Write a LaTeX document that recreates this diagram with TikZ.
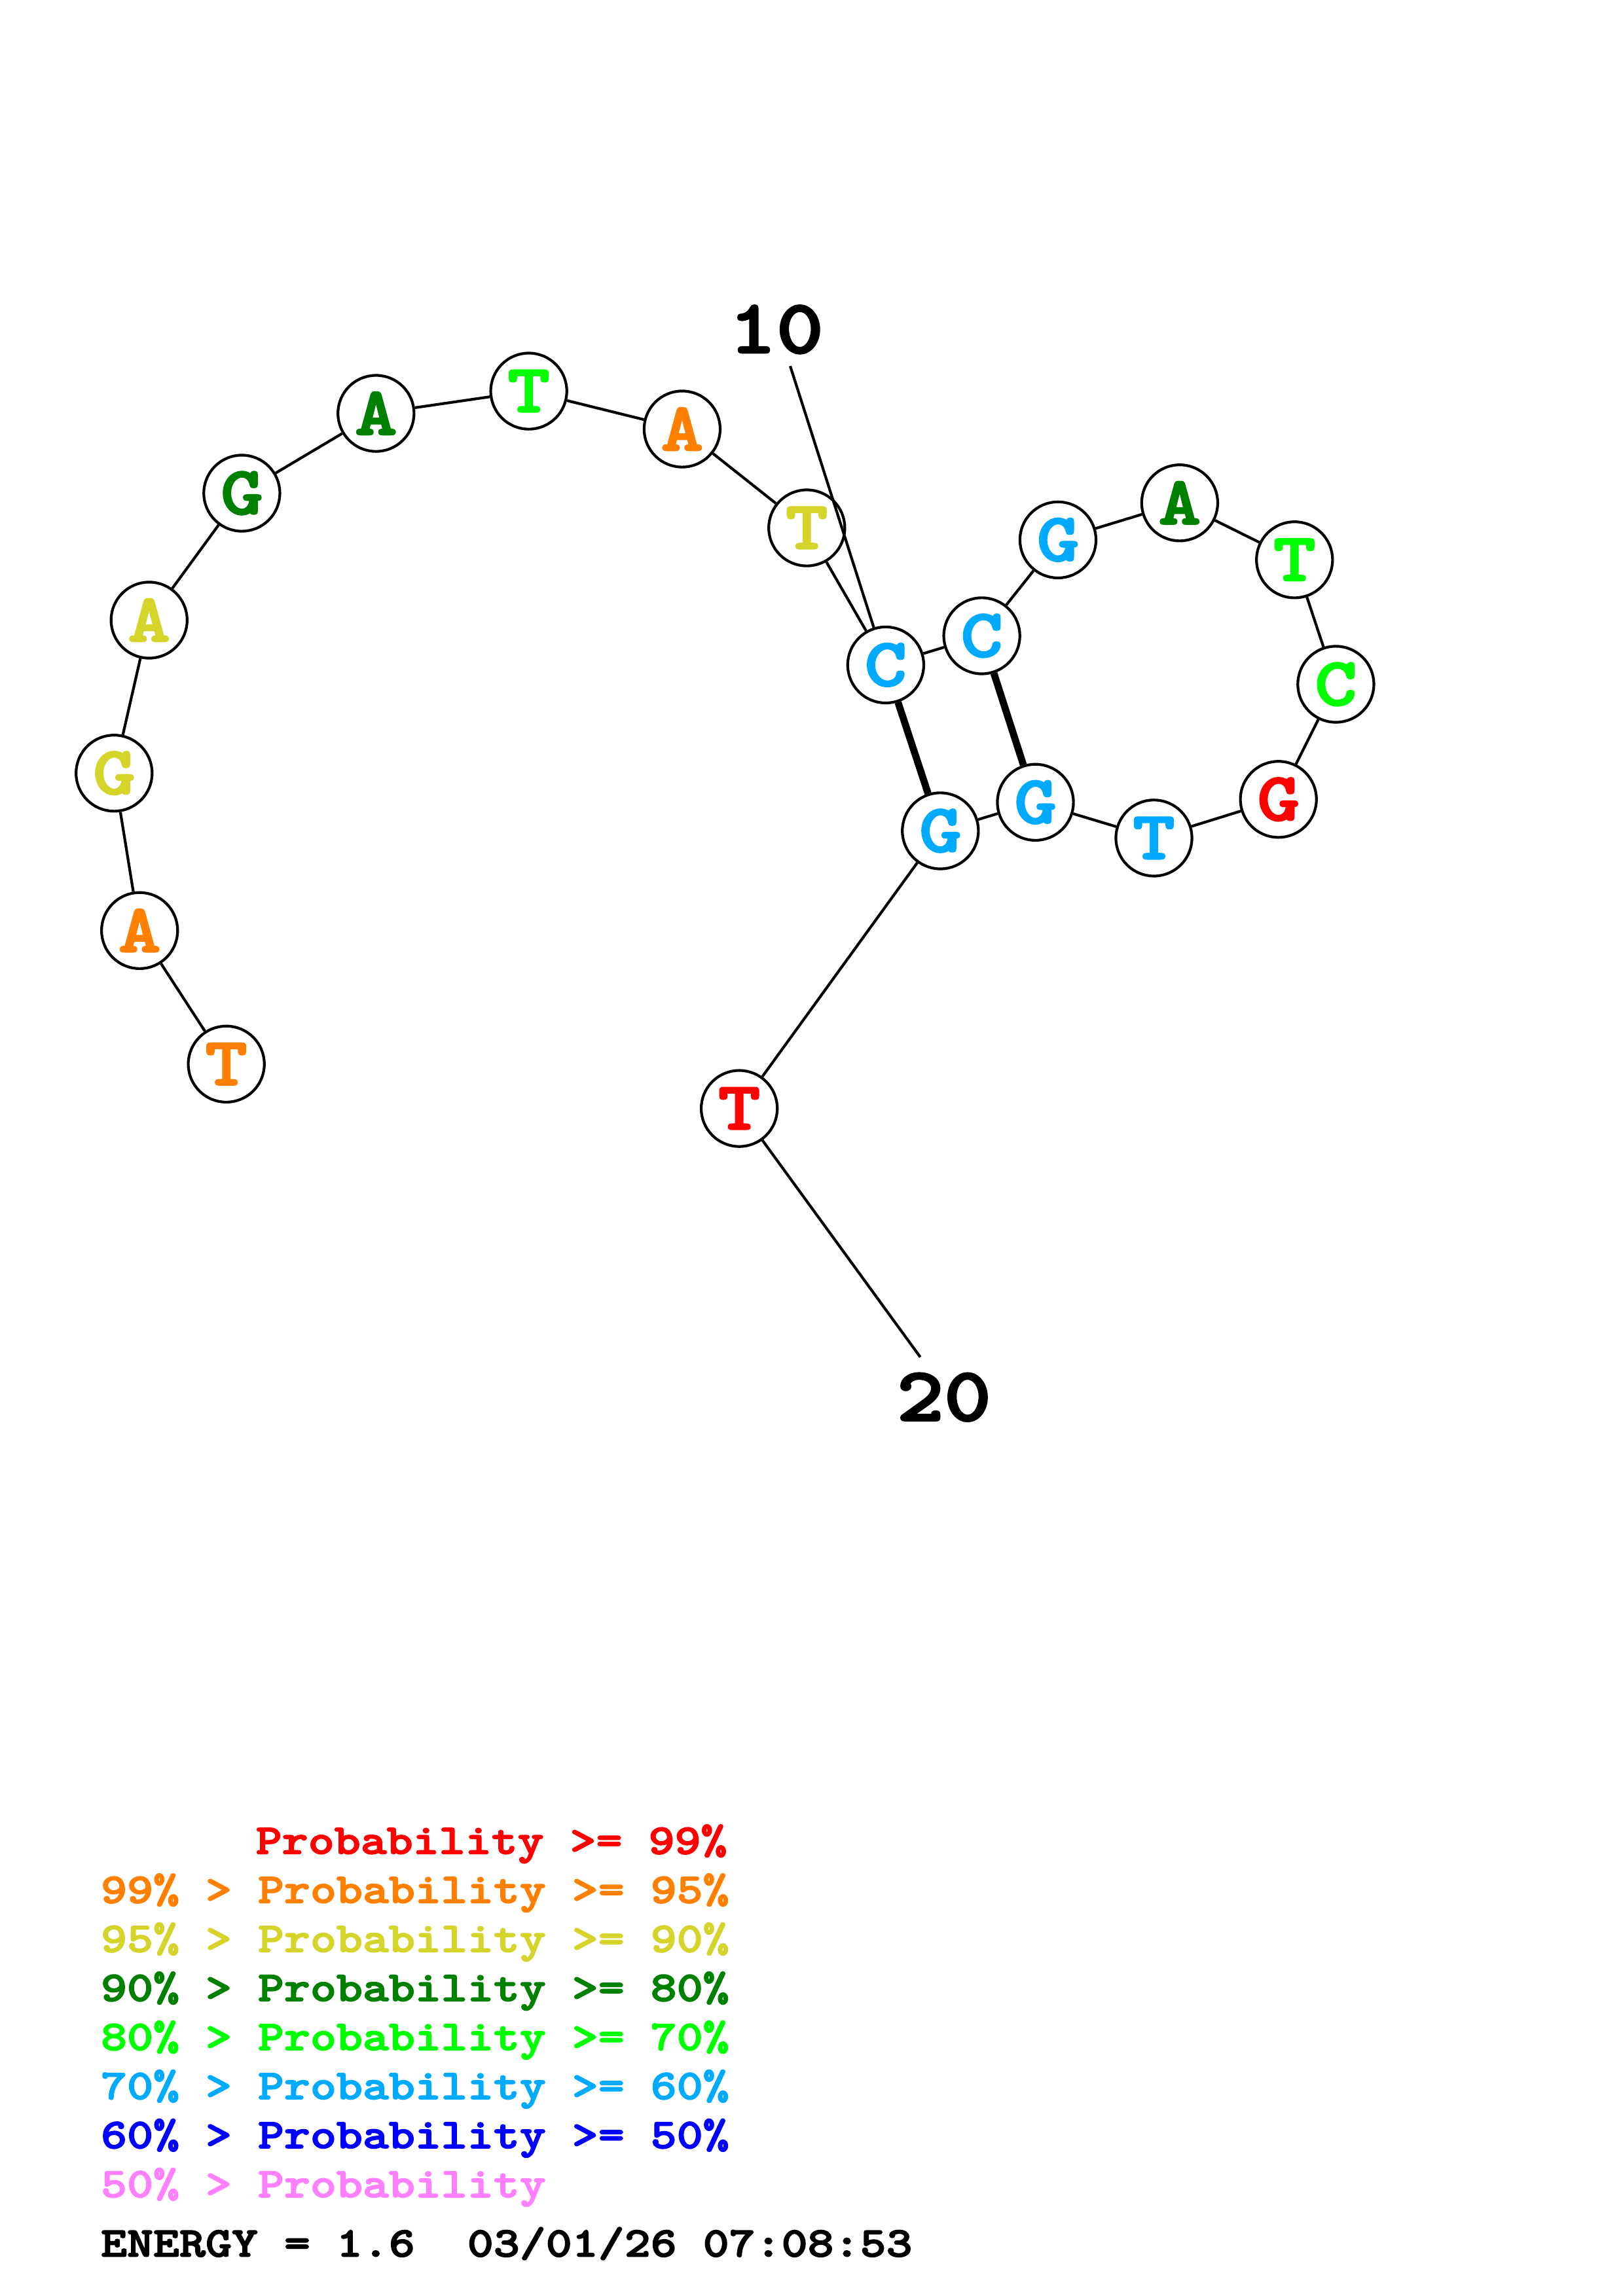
\documentclass[tikz,border=0pt]{standalone}
\usepackage{fontspec}
\newfontfamily\rnafont{lmmonolt10-bold}[Extension=.otf, FakeStretch=1.18, FakeBold=2.5]
\usepackage{xcolor}
\usepackage{tikz}
\usetikzlibrary{positioning}
\definecolor{probred}{RGB}{255,0,0}
\definecolor{proborange}{RGB}{255,128,0}
\definecolor{probyellow}{RGB}{212,212,42}
\definecolor{probdkgreen}{RGB}{0,128,0}
\definecolor{probgreen}{RGB}{0,255,0}
\definecolor{problblue}{RGB}{0,170,255}
\definecolor{probblue}{RGB}{0,0,255}
\definecolor{probpink}{RGB}{255,128,255}
\tikzset{
  rnabase/.style={circle, draw=black, line width=1pt, fill=white,
    minimum size=27.9pt, inner sep=0pt, font=\rnafont\fontsize{25}{25}\selectfont},
  basered/.style={rnabase, text=probred},
  baseorange/.style={rnabase, text=proborange},
  baseyellow/.style={rnabase, text=probyellow},
  basedkgreen/.style={rnabase, text=probdkgreen},
  basegreen/.style={rnabase, text=probgreen},
  baselblue/.style={rnabase, text=problblue},
  rnabackbone/.style={line width=1pt, draw=black},
  rnapair/.style={line width=2.6pt, draw=black},
  rnanumber/.style={font=\rnafont\fontsize{28}{28}\selectfont, inner sep=0pt},
  legendline/.style={anchor=base west, inner sep=0pt,
    font=\rnafont\fontsize{15.5}{15.5}\selectfont}
}
\begin{document}
\begin{tikzpicture}[x=0.5373pt, y=-0.5373pt]
  \useasboundingbox (0,0) rectangle (1108,1568);

  % bases, 5' to 3'
  \node[baseorange]  (n1)  at (154.5,726.7) {T};
  \node[baseorange]  (n2)  at (95.3,635.5)  {A};
  \node[baseyellow]  (n3)  at (77.9,528.0)  {G};
  \node[baseyellow]  (n4)  at (101.8,423.5) {A};
  \node[basedkgreen] (n5)  at (165.1,336.8) {G};
  \node[basedkgreen] (n6)  at (256.7,282.3) {A};
  \node[basegreen]   (n7)  at (361.0,267.1) {T};
  \node[baseorange]  (n8)  at (465.7,293.0) {A};
  \node[baseyellow]  (n9)  at (550.8,360.5) {T};
  \node[baselblue]   (n10) at (604.7,454.1) {C};
  \node[baselblue]   (n11) at (670.3,434.2) {C};
  \node[baselblue]   (n12) at (722.3,368.7) {G};
  \node[basedkgreen] (n13) at (805.4,343.4) {A};
  \node[basegreen]   (n14) at (883.8,382.3) {T};
  \node[basegreen]   (n15) at (912.0,467.3) {C};
  \node[basered]     (n16) at (872.8,545.9) {G};
  \node[baselblue]   (n17) at (787.8,572.3) {T};
  \node[baselblue]   (n18) at (706.9,547.9) {G};
  \node[baselblue]   (n19) at (642.0,567.4) {G};
  \node[basered]     (n20) at (504.7,757.0) {T};

  \draw[rnabackbone] (n1) -- (n2) -- (n3) -- (n4) -- (n5) -- (n6) -- (n7)
    -- (n8) -- (n9) -- (n10) -- (n11) -- (n12) -- (n13) -- (n14) -- (n15)
    -- (n16) -- (n17) -- (n18) -- (n19) -- (n20);
  \draw[rnapair] (n10) -- (n19);
  \draw[rnapair] (n11) -- (n18);

  % position numbers
  \coordinate (tick10) at (539.5,250.0);
  \coordinate (tick20) at (628.3,926.8);
  \node[rnanumber] (num10) at (530.0,225.0) {10};
  \node[rnanumber] (num20) at (644.5,954.2) {20};
  \draw[rnabackbone] (tick10) -- (n10);
  \draw[rnabackbone] (n20) -- (tick20);

  % legend
  \node[legendline, text=probred] (leg1) at (174.3,1266.0)
    {Probability >= 99\%};
  \node[legendline, text=proborange] (leg2) at (68.5,1299.5)
    {99\% > Probability >= 95\%};
  \node[legendline, text=probyellow] (leg3) at (68.5,1333.0)
    {95\% > Probability >= 90\%};
  \node[legendline, text=probdkgreen] (leg4) at (68.5,1366.5)
    {90\% > Probability >= 80\%};
  \node[legendline, text=probgreen] (leg5) at (68.5,1400.0)
    {80\% > Probability >= 70\%};
  \node[legendline, text=problblue] (leg6) at (68.5,1433.5)
    {70\% > Probability >= 60\%};
  \node[legendline, text=probblue] (leg7) at (68.5,1467.0)
    {60\% > Probability >= 50\%};
  \node[legendline, text=probpink] (leg8) at (68.5,1500.5)
    {50\% > Probability};
  \node[legendline, text=black] (energy) at (68.5,1541.0)
    {ENERGY = 1.6\ \ 03/01/26 07:08:53};
\end{tikzpicture}
\end{document}
